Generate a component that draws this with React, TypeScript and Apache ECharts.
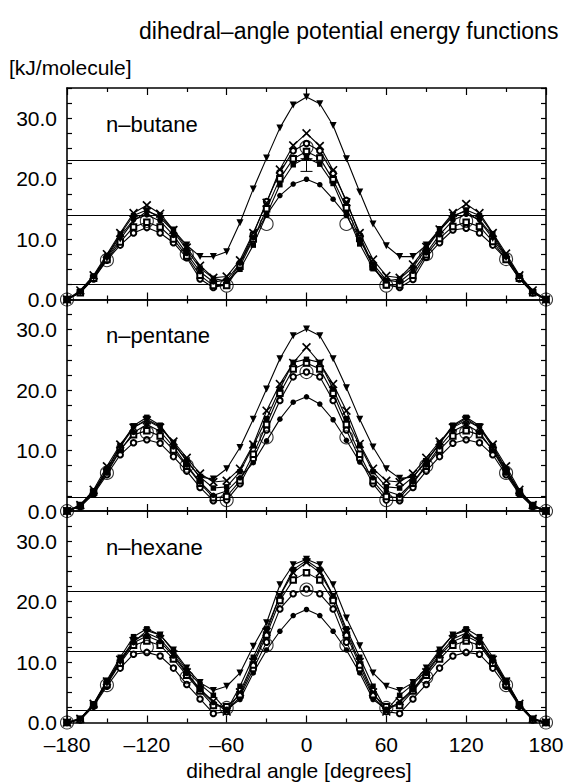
import React, { useEffect, useRef } from "react";
import * as echarts from "echarts";

const ANGLES = [-180, -170, -160, -150, -140, -130, -120, -110, -100, -90, -80, -70, -60, -50, -40, -30, -20, -10, 0, 10, 20, 30, 40, 50, 60, 70, 80, 90, 100, 110, 120, 130, 140, 150, 160, 170, 180];
const COARSE_ANGLES = [-180, -150, -120, -90, -60, -30, 0, 30, 60, 90, 120, 150, 180];
const X_TICKS = [-180, -120, -60, 0, 60, 120, 180];
const Y_TICKS = [0, 10, 20, 30];

const PANEL_NAMES = ["n–butane", "n–pentane", "n–hexane"];

const BUTANE_TRI = [0, 1.2, 3.7, 6.8, 10.0, 13.0, 14.6, 13.8, 11.5, 9.0, 7.1, 7.1, 7.9, 12.7, 18.3, 23.4, 28.4, 32.2, 33.5, 32.4, 28.8, 23.3, 17.8, 12.5, 8.9, 7.1, 7.1, 9.0, 11.6, 13.9, 14.6, 13.0, 10.1, 6.9, 3.8, 1.2, 0];
const BUTANE_CROSS = [0, 1.5, 4.0, 7.5, 11.0, 14.3, 15.6, 14.2, 11.5, 8.6, 5.6, 3.6, 3.8, 6.5, 11.0, 16.0, 21.5, 25.5, 27.5, 25.4, 21.4, 16.1, 11.0, 6.6, 3.9, 3.6, 5.8, 8.7, 11.6, 14.3, 15.8, 14.3, 11.0, 7.6, 4.0, 1.5, 0];
const BUTANE_DOT = [0, 1.3, 3.8, 7.0, 10.5, 13.2, 14.0, 13.0, 10.6, 7.6, 4.6, 2.9, 3.2, 6.0, 10.2, 14.0, 17.2, 19.1, 19.9, 19.0, 16.6, 13.9, 10.0, 5.9, 3.2, 2.9, 4.7, 7.7, 10.7, 13.1, 14.1, 13.2, 10.5, 7.1, 3.8, 1.3, 0];
const BUTANE_OCIRC = [0, 1.2, 3.4, 6.5, 9.0, 11.0, 11.9, 11.0, 9.4, 6.9, 3.4, 2.0, 2.5, 6.0, 10.8, 16.2, 21.0, 24.6, 25.8, 24.6, 20.9, 16.4, 10.6, 5.6, 2.4, 2.0, 3.3, 7.0, 9.4, 11.5, 11.8, 11.0, 9.0, 6.7, 3.4, 1.1, 0];
const BUTANE_OSQ = [0, 1.1, 3.5, 6.6, 9.5, 12.0, 12.8, 12.0, 10.0, 7.2, 4.0, 2.3, 2.3, 5.5, 10.0, 15.0, 20.0, 23.3, 24.5, 23.4, 19.8, 15.2, 10.1, 5.4, 2.4, 2.4, 4.0, 7.4, 10.1, 12.1, 12.8, 12.1, 9.6, 6.6, 3.5, 1.1, 0];
const BUTANE_FSQ = [0, 1.3, 3.9, 7.2, 10.8, 13.9, 14.8, 13.5, 11.3, 8.2, 5.2, 3.5, 3.0, 5.0, 9.0, 14.0, 19.0, 22.3, 23.5, 22.4, 19.2, 14.2, 9.2, 5.1, 3.1, 3.4, 5.3, 8.4, 11.4, 13.7, 14.8, 13.9, 10.9, 7.2, 3.9, 1.3, 0];
const BUTANE_BIG = [0, 6.5, 13.0, 7.5, 2.3, 12.5, 25.2, 12.5, 2.3, 7.5, 13.0, 6.7, 0];
const BUTANE_ERR = [0, 21.2, 23.3];
const BUTANE_REF = [23.1, 14.0, 2.5];

const PENTANE_TRI = [0, 0.8, 3.2, 6.8, 10.6, 13.8, 15.2, 14.0, 11.2, 8.3, 5.6, 5.3, 7.0, 10.5, 15.2, 20.2, 25.2, 29.0, 30.1, 29.0, 25.2, 20.4, 15.2, 10.6, 7.0, 5.4, 5.6, 8.2, 11.1, 14.0, 15.3, 13.8, 10.5, 6.8, 3.2, 0.8, 0];
const PENTANE_CROSS = [0, 1.0, 3.5, 7.4, 11.0, 13.8, 15.0, 13.8, 11.5, 8.8, 6.2, 4.8, 5.0, 7.0, 11.0, 16.6, 21.0, 24.5, 27.1, 24.5, 21.0, 16.6, 11.1, 7.0, 5.0, 4.8, 6.2, 8.8, 11.5, 13.8, 15.0, 13.8, 11.0, 7.4, 3.5, 1.0, 0];
const PENTANE_DOT = [0, 0.8, 3.0, 6.3, 10.0, 13.0, 14.3, 13.2, 10.6, 7.6, 4.8, 2.6, 3.3, 5.5, 8.0, 11.6, 15.2, 18.0, 18.9, 17.7, 15.1, 11.7, 8.1, 5.5, 3.3, 2.6, 4.8, 7.6, 10.6, 13.2, 14.3, 13.0, 10.0, 6.3, 3.0, 0.8, 0];
const PENTANE_OCIRC = [0, 0.7, 2.8, 6.0, 9.3, 11.3, 11.8, 11.2, 9.0, 6.6, 3.9, 1.7, 1.8, 4.5, 8.6, 13.4, 18.3, 22.2, 23.0, 22.2, 18.3, 13.4, 8.6, 4.5, 1.8, 1.7, 3.9, 6.6, 9.0, 11.2, 11.8, 11.3, 9.3, 6.0, 2.8, 0.7, 0];
const PENTANE_OSQ = [0, 0.9, 3.1, 6.5, 10.2, 12.6, 13.3, 12.4, 10.1, 7.4, 4.6, 2.2, 2.4, 5.0, 9.4, 14.3, 19.5, 23.5, 24.5, 23.5, 19.5, 14.3, 9.4, 5.0, 2.4, 2.2, 4.6, 7.4, 10.1, 12.4, 13.3, 12.6, 10.2, 6.5, 3.1, 0.9, 0];
const PENTANE_FSQ = [0, 1.0, 3.3, 6.9, 10.8, 14.1, 15.5, 14.2, 11.2, 8.3, 5.6, 3.8, 4.0, 6.5, 10.8, 15.3, 20.2, 24.6, 25.1, 24.6, 20.2, 15.3, 10.8, 6.5, 4.0, 3.8, 5.6, 8.3, 11.2, 14.2, 15.5, 14.1, 10.8, 6.9, 3.3, 1.0, 0];
const PENTANE_BIG = [0, 6.3, 13.0, 7.5, 1.8, 12.2, 23.0, 12.2, 1.8, 7.5, 13.0, 6.3, 0];
const PENTANE_REF = [2.3];

const HEXANE_TRI = [0, 0.5, 2.8, 6.5, 10.0, 13.3, 15.2, 14.5, 12.0, 9.0, 6.6, 5.3, 6.0, 8.2, 12.6, 16.5, 22.8, 26.1, 27.0, 26.1, 22.8, 17.3, 12.7, 8.2, 6.0, 5.3, 6.6, 9.0, 12.0, 14.5, 15.2, 13.3, 10.0, 6.5, 2.8, 0.5, 0];
const HEXANE_CROSS = [0, 0.6, 3.1, 6.8, 10.4, 13.5, 14.8, 13.8, 11.3, 8.3, 5.5, 3.5, 1.8, 5.0, 10.0, 15.0, 21.0, 24.8, 26.5, 24.8, 21.0, 15.0, 10.0, 5.0, 1.8, 3.5, 5.5, 8.3, 11.3, 13.8, 14.8, 13.5, 10.4, 6.8, 3.1, 0.6, 0];
const HEXANE_DOT = [0, 0.6, 3.0, 6.6, 10.2, 13.2, 14.3, 13.4, 11.0, 8.1, 5.4, 3.3, 2.2, 3.8, 8.2, 12.0, 15.1, 17.7, 18.7, 17.7, 15.1, 12.0, 8.2, 3.8, 2.2, 3.3, 5.4, 8.1, 11.0, 13.4, 14.3, 13.2, 10.2, 6.6, 3.0, 0.6, 0];
const HEXANE_OCIRC = [0, 0.4, 2.7, 6.0, 9.0, 11.3, 11.6, 11.0, 9.0, 6.3, 3.9, 1.5, 1.8, 4.3, 8.8, 13.3, 18.8, 21.3, 22.1, 21.3, 18.8, 13.3, 8.8, 4.3, 1.8, 1.5, 3.9, 6.3, 9.0, 11.0, 11.6, 11.3, 9.0, 6.0, 2.7, 0.4, 0];
const HEXANE_OSQ = [0, 0.5, 2.9, 6.3, 9.8, 12.8, 13.5, 12.8, 10.5, 7.8, 5.2, 2.8, 2.6, 4.6, 9.5, 14.5, 20.2, 23.6, 24.8, 23.6, 20.2, 14.5, 9.5, 4.6, 2.6, 2.8, 5.2, 7.8, 10.5, 12.8, 13.5, 12.8, 9.8, 6.3, 2.9, 0.5, 0];
const HEXANE_FSQ = [0, 0.7, 3.1, 7.0, 10.8, 14.2, 15.5, 14.5, 11.8, 8.6, 6.3, 4.5, 2.0, 6.0, 10.8, 15.5, 21.0, 25.3, 26.8, 25.3, 21.0, 15.5, 10.8, 6.0, 2.0, 4.5, 6.3, 8.6, 11.8, 14.5, 15.5, 14.2, 10.8, 7.0, 3.1, 0.7, 0];
const HEXANE_BIG = [0, 6.2, 12.5, 7.5, 2.4, 12.8, 22.0, 12.8, 2.4, 7.5, 12.5, 6.2, 0];
const HEXANE_REF = [21.8, 11.8, 2.0];

const FONT = "'Liberation Sans', Arial, Helvetica, sans-serif";
const X_PATH = "path://M0,1.3L1.3,0L5,3.7L8.7,0L10,1.3L6.3,5L10,8.7L8.7,10L5,6.3L1.3,10L0,8.7L3.7,5Z";

const GRID_LEFT = 67;
const GRID_WIDTH = 479;
const GRID_TOPS = [88, 299.5, 511];
const GRID_HEIGHT = 211.5;

type MarkerKind = "tri" | "cross" | "dot" | "ocirc" | "osq" | "fsq";

const MARKER_STYLE: Record<MarkerKind, any> = {
  tri: { symbol: "triangle", symbolSize: 7, symbolRotate: 180, itemStyle: { color: "#000", borderWidth: 0 } },
  cross: { symbol: X_PATH, symbolSize: 9, itemStyle: { color: "#000", borderWidth: 0 } },
  dot: { symbol: "circle", symbolSize: 5.5, itemStyle: { color: "#000", borderWidth: 0 } },
  ocirc: { symbol: "emptyCircle", symbolSize: 5.5, itemStyle: { color: "#000", borderColor: "#000", borderWidth: 1.1 } },
  osq: { symbol: "emptyRect", symbolSize: 5.5, itemStyle: { color: "#000", borderColor: "#000", borderWidth: 1.1 } },
  fsq: { symbol: "rect", symbolSize: 5.5, itemStyle: { color: "#000", borderWidth: 0 } },
};

const PANEL_SERIES: { kind: MarkerKind; values: number[] }[][] = [
  [
    { kind: "ocirc", values: BUTANE_OCIRC },
    { kind: "osq", values: BUTANE_OSQ },
    { kind: "fsq", values: BUTANE_FSQ },
    { kind: "dot", values: BUTANE_DOT },
    { kind: "cross", values: BUTANE_CROSS },
    { kind: "tri", values: BUTANE_TRI },
  ],
  [
    { kind: "ocirc", values: PENTANE_OCIRC },
    { kind: "osq", values: PENTANE_OSQ },
    { kind: "fsq", values: PENTANE_FSQ },
    { kind: "dot", values: PENTANE_DOT },
    { kind: "cross", values: PENTANE_CROSS },
    { kind: "tri", values: PENTANE_TRI },
  ],
  [
    { kind: "ocirc", values: HEXANE_OCIRC },
    { kind: "osq", values: HEXANE_OSQ },
    { kind: "fsq", values: HEXANE_FSQ },
    { kind: "dot", values: HEXANE_DOT },
    { kind: "cross", values: HEXANE_CROSS },
    { kind: "tri", values: HEXANE_TRI },
  ],
];
const PANEL_BIG = [BUTANE_BIG, PENTANE_BIG, HEXANE_BIG];
const PANEL_REF = [BUTANE_REF, PENTANE_REF, HEXANE_REF];

const pair = (xs: number[], ys: number[]) => xs.slice(0, Math.min(xs.length, ys.length)).map((x, i) => [x, ys[i]]);
const fmtX = (v: number) => (v < 0 ? "–" + Math.abs(v) : String(v));
const fmtY = (v: number) => (Y_TICKS.indexOf(v) >= 0 ? v.toFixed(1) : "");

function buildOption() {
  const axisLine = { show: true, onZero: false, lineStyle: { color: "#000", width: 1.6 } };
  const tickStyle = { color: "#000", width: 1.2 };
  const grids: any[] = [];
  const xAxes: any[] = [];
  const yAxes: any[] = [];
  const series: any[] = [];

  for (let i = 0; i < 3; i++) {
    grids.push({ left: GRID_LEFT, width: GRID_WIDTH, top: GRID_TOPS[i], height: GRID_HEIGHT, containLabel: false });
    const xBase = {
      gridIndex: i, type: "value", min: X_TICKS[0], max: X_TICKS[X_TICKS.length - 1], interval: 60,
      axisLine, splitLine: { show: false },
      axisTick: { show: true, inside: true, length: 7, lineStyle: tickStyle },
      minorTick: { show: true, splitNumber: 2, length: 4, lineStyle: tickStyle },
    };
    xAxes.push({
      ...xBase, position: "bottom",
      axisLabel: { show: i === 2, formatter: fmtX, color: "#000", fontSize: 21, fontFamily: FONT, margin: 12, lineHeight: 20 },
    });
    xAxes.push({ ...xBase, position: "top", axisLabel: { show: false } });
    const yBase = {
      gridIndex: i, type: "value", min: Y_TICKS[0], max: 35, interval: 10,
      axisLine, splitLine: { show: false },
      axisTick: { show: true, inside: true, length: 5, lineStyle: tickStyle },
      minorTick: { show: true, splitNumber: 4, length: 5, lineStyle: tickStyle },
    };
    yAxes.push({
      ...yBase, position: "left",
      axisLabel: { show: true, showMaxLabel: false, formatter: fmtY, color: "#000", fontSize: 21, fontFamily: FONT, margin: 10, lineHeight: 20 },
    });
    yAxes.push({ ...yBase, position: "right", axisLabel: { show: false } });

    PANEL_SERIES[i].forEach((s, k) => {
      const st = MARKER_STYLE[s.kind];
      const ser: any = {
        type: "line", xAxisIndex: 2 * i, yAxisIndex: 2 * i,
        data: pair(ANGLES, s.values),
        symbol: st.symbol, symbolSize: st.symbolSize, symbolRotate: st.symbolRotate || 0,
        showAllSymbol: true, clip: false, silent: true,
        lineStyle: { color: "#000", width: 1.1 },
        itemStyle: st.itemStyle,
        z: 3,
      };
      if (k === 0) {
        ser.markLine = {
          silent: true, symbol: ["none", "none"], label: { show: false },
          lineStyle: { color: "#000", width: 1.1, type: "solid" },
          data: PANEL_REF[i].map((v) => ({ yAxis: v })),
          z: 1,
        };
      }
      series.push(ser);
    });

    series.push({
      type: "scatter", xAxisIndex: 2 * i, yAxisIndex: 2 * i,
      data: pair(COARSE_ANGLES, PANEL_BIG[i]),
      symbol: "circle", symbolSize: 13, clip: false, silent: true,
      itemStyle: { color: "rgba(0,0,0,0)", borderColor: "#000", borderWidth: 1.1 },
      z: 4,
    });
  }

  series.push({
    type: "custom", xAxisIndex: 0, yAxisIndex: 0, silent: true, clip: false,
    data: [BUTANE_ERR],
    encode: { x: 0, y: [1, 2] },
    renderItem: (_p: any, api: any) => {
      const x = api.value(0);
      const lo = api.coord([x, api.value(1)]);
      const hi = api.coord([x, api.value(2)]);
      const st = { stroke: "#000", lineWidth: 1 };
      return {
        type: "group",
        children: [
          { type: "line", shape: { x1: lo[0], y1: lo[1], x2: hi[0], y2: hi[1] }, style: st },
          { type: "line", shape: { x1: lo[0] - 6, y1: lo[1], x2: lo[0] + 6, y2: lo[1] }, style: st },
          { type: "line", shape: { x1: hi[0] - 6, y1: hi[1], x2: hi[0] + 6, y2: hi[1] }, style: st },
        ],
      };
    },
    z: 5,
  });

  const graphic: any[] = [
    { type: "text", x: 139, y: 31, style: { text: "dihedral–angle potential energy functions", fontSize: 23, fontFamily: FONT, fill: "#000", align: "left", verticalAlign: "middle" } },
    { type: "text", x: 9, y: 67, style: { text: "[kJ/molecule]", fontSize: 21, fontFamily: FONT, fill: "#000", align: "left", verticalAlign: "middle" } },
    { type: "text", x: 299, y: 770, style: { text: "dihedral angle [degrees]", fontSize: 21, fontFamily: FONT, fill: "#000", align: "center", verticalAlign: "middle" } },
  ];
  PANEL_NAMES.forEach((name, i) => {
    graphic.push({ type: "text", x: 106, y: GRID_TOPS[i] + 36, style: { text: name, fontSize: 22, fontFamily: FONT, fill: "#000", align: "left", verticalAlign: "middle" }, z: 10 });
  });

  return {
    animation: false,
    backgroundColor: "#fff",
    textStyle: { fontFamily: FONT },
    grid: grids,
    xAxis: xAxes,
    yAxis: yAxes,
    series,
    graphic,
  };
}

export default function App() {
  const ref = useRef<HTMLDivElement>(null);
  useEffect(() => {
    document.body.style.margin = "0";
    if (!ref.current) return;
    const chart = echarts.init(ref.current, undefined, { renderer: "svg" });
    chart.setOption(buildOption());
    return () => chart.dispose();
  }, []);
  return <div ref={ref} style={{ width: 567, height: 782 }} />;
}
